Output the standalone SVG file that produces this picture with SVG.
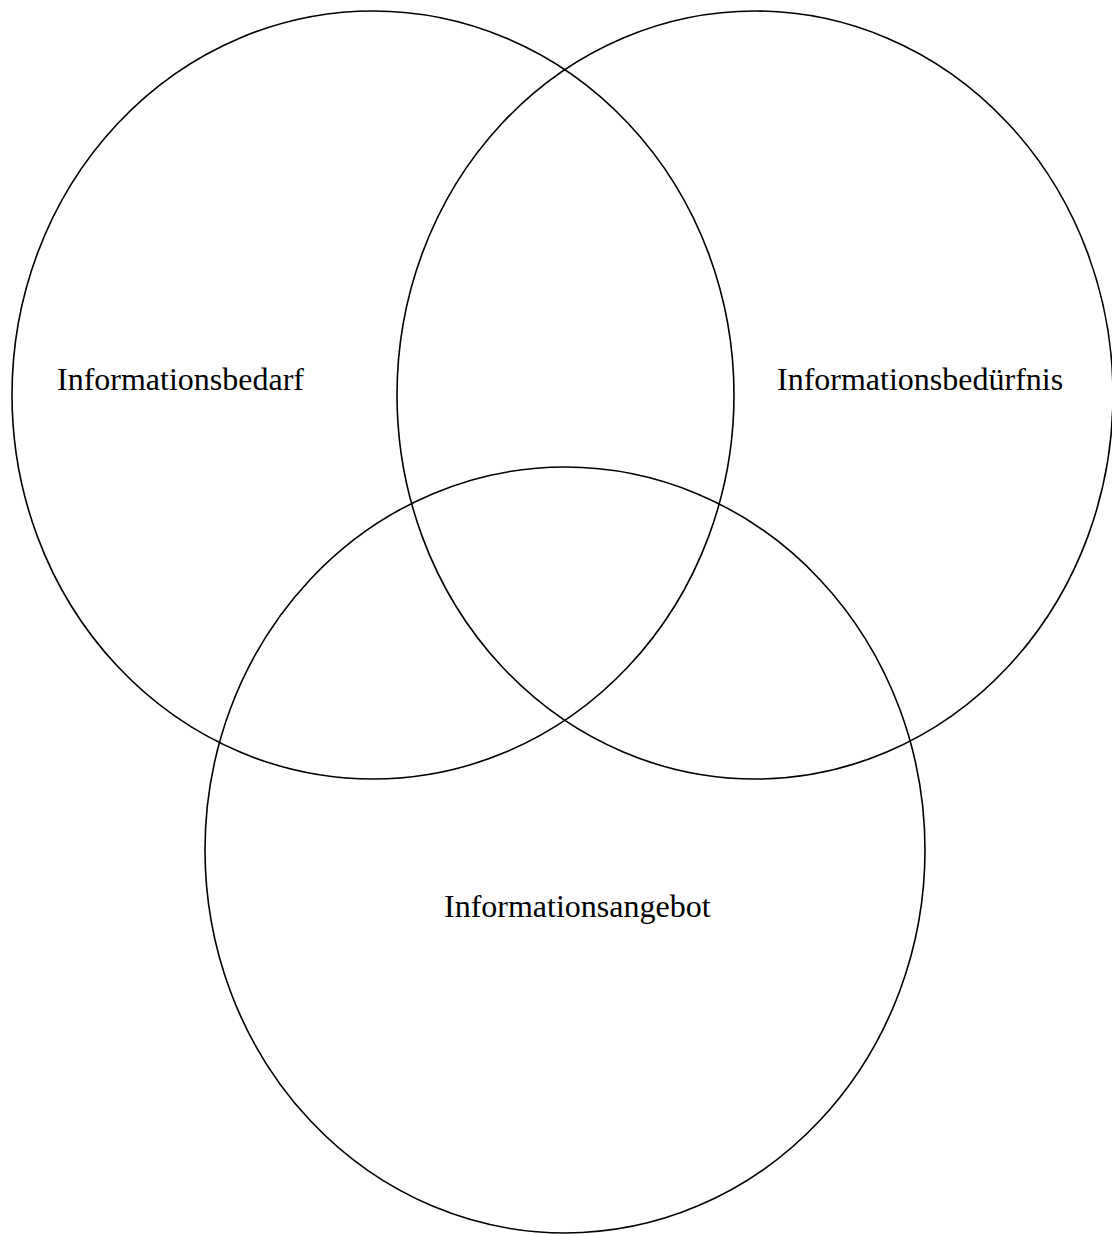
<svg xmlns="http://www.w3.org/2000/svg" width="1112" height="1234" viewBox="0 0 1112 1234">
  <style>
    .set { fill: none; stroke: #000; stroke-width: 1.6; }
    .label { font-family: "Liberation Serif", "Times New Roman", serif; font-size: 32px; fill: #000; }
  </style>
  <rect width="1112" height="1234" fill="#fff"/>
  <g id="bedarf">
    <ellipse class="set" cx="373" cy="395" rx="361" ry="384"/>
    <text class="label" x="57" y="390">Informationsbedarf</text>
  </g>
  <g id="beduerfnis">
    <ellipse class="set" cx="755" cy="395" rx="358" ry="384"/>
    <text class="label" x="777" y="390">Informationsbedürfnis</text>
  </g>
  <g id="angebot">
    <ellipse class="set" cx="565" cy="850" rx="360" ry="383"/>
    <text class="label" x="444" y="917">Informationsangebot</text>
  </g>
  <g id="connectors"/>
</svg>
